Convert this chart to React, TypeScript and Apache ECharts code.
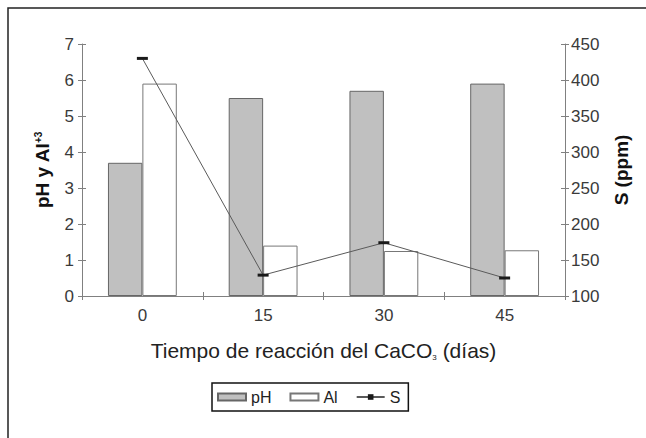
import React, { useEffect, useRef } from "react";
import * as echarts from "echarts";

const categories = ["0", "15", "30", "45"];
const phValues = [3.7, 5.5, 5.7, 5.9];
const alValues = [5.9, 1.4, 1.25, 1.27];
const sValues = [430, 129, 174, 125];

const FONT = "'Liberation Sans', Arial, sans-serif";
const AXIS_COLOR = "#808080";
const LABEL_COLOR = "#3a3a3a";

export default function App() {
  const ref = useRef<HTMLDivElement>(null);
  useEffect(() => {
    document.body.style.margin = "0";
    const chart = echarts.init(ref.current!, null, { renderer: "svg" });
    const tickLine = { lineStyle: { color: AXIS_COLOR, width: 1 } };
    const option: any = {
      animation: false,
      backgroundColor: "#ffffff",
      textStyle: { fontFamily: FONT },
      grid: { left: 82, right: 81, top: 44, bottom: 142, containLabel: false },
      legend: {
        left: 212,
        top: 383,
        padding: [6, 8, 6, 5],
        borderColor: "#111",
        borderWidth: 1.5,
        itemWidth: 28,
        itemHeight: 7,
        itemGap: 18,
        textStyle: { fontFamily: FONT, fontSize: 16, color: "#222" },
        data: [
          { name: "pH", icon: "rect" },
          { name: "Al", icon: "rect" },
          { name: "S" },
        ],
      },
      graphic: [
        {
          type: "rect",
          shape: { x: 8, y: 8, width: 660, height: 460 },
          style: { fill: "none", stroke: "#222", lineWidth: 1.5 },
          silent: true,
        },
      ],
      xAxis: [
        {
          type: "category",
          data: categories,
          position: "bottom",
          axisLine: { lineStyle: { color: AXIS_COLOR, width: 1 } },
          axisTick: { show: true, length: 4, ...tickLine },
          axisLabel: { color: LABEL_COLOR, fontSize: 17, margin: 11, fontFamily: FONT },
          name: "Tiempo de reacción del CaCO{sub|3} (días)",
          nameLocation: "middle",
          nameGap: 44,
          nameTextStyle: {
            fontFamily: FONT,
            fontSize: 21,
            color: "#222",
            rich: {
              sub: { fontSize: 8, verticalAlign: "bottom", color: "#222", fontFamily: FONT },
            },
          },
        },
        {
          type: "category",
          data: categories,
          position: "bottom",
          axisLine: { show: false },
          axisTick: { show: true, inside: true, length: 4, ...tickLine },
          axisLabel: { show: false },
        },
      ],
      yAxis: [
        {
          type: "value",
          position: "left",
          min: 0,
          max: 7,
          interval: 1,
          splitLine: { show: false },
          axisLine: { show: true, lineStyle: { color: AXIS_COLOR, width: 1 } },
          axisTick: { show: true, length: 4, ...tickLine },
          axisLabel: { color: LABEL_COLOR, fontSize: 17, margin: 8, fontFamily: FONT },
          name: "pH y Al{sup|+3}",
          nameLocation: "middle",
          nameRotate: 90,
          nameGap: 30,
          nameTextStyle: {
            fontFamily: FONT,
            fontSize: 19,
            fontWeight: "bold",
            color: "#111",
            rich: {
              sup: { fontSize: 10, fontWeight: "bold", verticalAlign: "top", color: "#111", fontFamily: FONT },
            },
          },
        },
        {
          type: "value",
          position: "right",
          min: 100,
          max: 450,
          interval: 50,
          splitLine: { show: false },
          axisLine: { show: true, lineStyle: { color: AXIS_COLOR, width: 1 } },
          axisTick: { show: true, length: 4, ...tickLine },
          axisLabel: { color: LABEL_COLOR, fontSize: 17, margin: 6, fontFamily: FONT },
          name: "S (ppm)",
          nameLocation: "middle",
          nameRotate: 90,
          nameGap: 47,
          nameTextStyle: { fontFamily: FONT, fontSize: 19, fontWeight: "bold", color: "#111" },
        },
        {
          type: "value",
          position: "left",
          min: 0,
          max: 7,
          interval: 1,
          splitLine: { show: false },
          axisLine: { show: false },
          axisTick: { show: true, inside: true, length: 4, ...tickLine },
          axisLabel: { show: false },
        },
        {
          type: "value",
          position: "right",
          min: 100,
          max: 450,
          interval: 50,
          splitLine: { show: false },
          axisLine: { show: false },
          axisTick: { show: true, inside: true, length: 4, ...tickLine },
          axisLabel: { show: false },
        },
      ],
      series: [
        {
          name: "pH",
          type: "bar",
          data: phValues,
          xAxisIndex: 0,
          yAxisIndex: 0,
          barGap: "0%",
          barCategoryGap: "43%",
          itemStyle: { color: "#c0c0c0", borderColor: "#666666", borderWidth: 1 },
        },
        {
          name: "Al",
          type: "bar",
          data: alValues,
          xAxisIndex: 0,
          yAxisIndex: 0,
          barGap: "0%",
          barCategoryGap: "43%",
          itemStyle: { color: "#ffffff", borderColor: "#777777", borderWidth: 1 },
        },
        {
          name: "S",
          type: "line",
          data: sValues,
          xAxisIndex: 0,
          yAxisIndex: 1,
          symbol: "rect",
          symbolSize: [11, 3],
          lineStyle: { color: "#5a5a5a", width: 1 },
          itemStyle: { color: "#1a1a1a" },
          z: 5,
        },
      ],
    };
    chart.setOption(option);
    return () => chart.dispose();
  }, []);
  return <div ref={ref} style={{ width: 646, height: 438 }} />;
}
